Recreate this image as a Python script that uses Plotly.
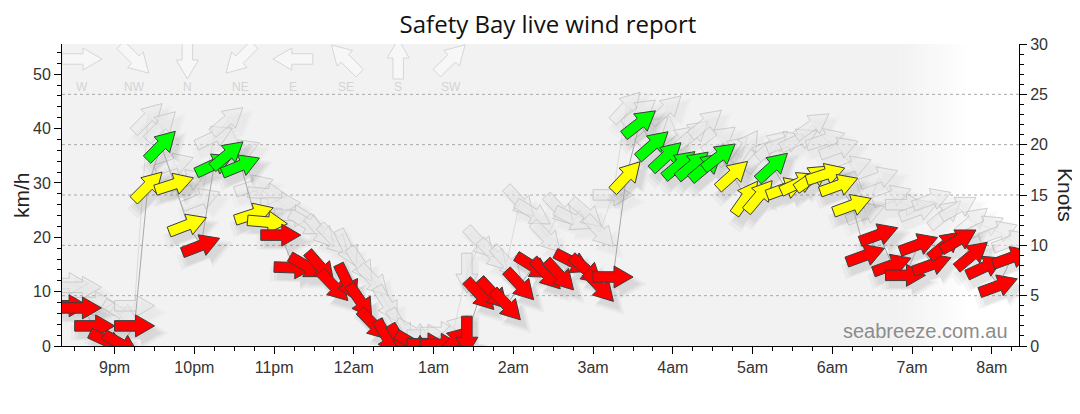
# # Safety Bay live wind report
# Wind speed arrows (coloured by strength) with gust arrows behind them.

import numpy as np
import plotly.graph_objects as go

# ## Data (10 minute observations, 20:25 -> 08:15)

obs_time = [
    "20:25", "20:35", "20:45", "20:55", "21:05", "21:15", "21:25", "21:35", "21:45", "21:55",
    "22:05", "22:15", "22:25", "22:35", "22:45", "22:55", "23:05", "23:15", "23:25", "23:35",
    "23:45", "23:55", "00:05", "00:15", "00:25", "00:35", "00:45", "00:55", "01:05", "01:15",
    "01:25", "01:35", "01:45", "01:55", "02:05", "02:15", "02:25", "02:35", "02:45", "02:55",
    "03:05", "03:15", "03:25", "03:35", "03:45", "03:55", "04:05", "04:15", "04:25", "04:35",
    "04:45", "04:55", "05:05", "05:15", "05:25", "05:35", "05:45", "05:55", "06:05", "06:15",
    "06:25", "06:35", "06:45", "06:55", "07:05", "07:15", "07:25", "07:35", "07:45", "07:55",
    "08:05", "08:15",
]
speed_kmh = [
    7.4, 7.0, 3.7, 0.8, 0.3, 3.7, 29.4, 36.9, 29.8, 22.3,
    18.5, 33.4, 35.2, 33.2, 24.3, 22.8, 20.4, 14.4, 14.6, 14.5,
    11.0, 11.7, 8.2, 3.9, 1.5, 0.7, 0.3, 0.4, 0.3, 0.8,
    1.8, 9.4, 9.6, 7.5, 11.2, 14.6, 13.2, 13.0, 15.4, 14.0,
    10.9, 12.7, 31.2, 41.0, 37.0, 34.9, 33.4, 33.3, 33.0, 34.9,
    31.5, 27.3, 27.6, 33.0, 29.0, 30.0, 31.0, 31.6, 29.6, 25.9,
    16.7, 20.5, 14.9, 13.0, 18.7, 15.0, 18.6, 19.5, 16.7, 14.6,
    11.1, 16.3,
]
gust_kmh = [
    11.5, 10.8, 8.0, 5.5, 6.0, 7.4, 42.0, 40.5, 33.5, 30.5,
    27.0, 38.5, 41.5, 36.0, 29.5, 28.0, 26.3, 24.0, 22.5, 21.0,
    19.5, 18.0, 15.0, 12.0, 7.7, 3.5, 2.5, 2.0, 2.5, 3.0,
    13.4, 19.0, 16.7, 15.4, 26.5, 24.4, 20.0, 25.0, 23.3, 24.4,
    21.0, 27.8, 44.0, 43.0, 39.7, 43.5, 38.0, 39.0, 41.0, 38.0,
    36.0, 36.6, 35.0, 37.0, 37.5, 38.0, 40.6, 38.0, 36.4, 33.0,
    24.4, 31.0, 27.6, 26.0, 25.0, 27.0, 24.3, 25.5, 23.0, 22.0,
    21.0, 19.3,
]
# direction the wind comes FROM, degrees
dir_from = [
    270, 270, 270, 295, 300, 270, 225, 225, 252, 249,
    249, 245, 230, 248, 252, 275, 270, 272, 300, 319,
    316, 334, 326, 316, 330, 330, 300, 270, 270, 225,
    0, 317, 317, 317, 317, 302, 317, 317, 297, 311,
    317, 270, 223, 232, 229, 227, 230, 230, 230, 232,
    228, 215, 220, 228, 250, 245, 235, 252, 250, 250,
    250, 250, 250, 270, 250, 250, 230, 240, 230, 245,
    250, 250,
]

hour_ticks = [1, 2, 3, 4, 5, 6, 7, 8, 9, 10, 11, 12]
hour_labels = ["9pm", "10pm", "11pm", "12am", "1am", "2am", "3am",
               "4am", "5am", "6am", "7am", "8am"]
knot_grid = [5, 10, 15, 20, 25]

compass_labels = ["W", "NW", "N", "NE", "E", "SE", "S", "SW"]
compass_from = [270, 315, 0, 45, 90, 135, 180, 225]

speed_bands = [21, 32]            # km/h: red below, yellow between, green above
band_colors = ["#ff0000", "#ffff00", "#00ff00"]

# ## Geometry
# the page puts the figure 8px in from the top-left corner, so the margins
# are trimmed by that much to land the plot where the reference has it

KMH_PER_KNOT = 1.852
X_RANGE = [0.34, 12.34]           # hours after 20:00
Y_RANGE = [0, 30 * KMH_PER_KNOT]
W, H = 1080, 414
PAGE_PAD = 8
MARGIN = dict(l=62 - PAGE_PAD, r=1080 - 1019 + PAGE_PAD, t=44 - PAGE_PAD, b=414 - 346 + PAGE_PAD)
PX_PER_H = (W - MARGIN["l"] - MARGIN["r"]) / (X_RANGE[1] - X_RANGE[0])
PX_PER_KMH = (H - MARGIN["t"] - MARGIN["b"]) / (Y_RANGE[1] - Y_RANGE[0])

# block arrow in pixels, pointing along +x, centred on the point
ARROW = [(-20, 5.25), (1, 5.25), (1, 11), (20, 0), (1, -11), (1, -5.25), (-20, -5.25), (-20, 5.25)]

FONT = "Liberation Sans, Arial, sans-serif"


def hours_after_8pm(hhmm):
    hh, mm = (int(p) for p in hhmm.split(":"))
    h = hh + mm / 60 - 20
    return h + 24 if h < 0 else h


def arrow_xy(xc, yc, frm, scale=1.0, off=(0, 0)):
    b = np.radians((frm + 180) % 360)
    ux, uy = np.sin(b), np.cos(b)
    vx, vy = -uy, ux
    xs, ys = [], []
    for a, c in ARROW:
        a, c = a * scale, c * scale
        xs.append(xc + (a * ux + c * vx + off[0]) / PX_PER_H)
        ys.append(yc + (a * uy + c * vy + off[1]) / PX_PER_KMH)
    return xs, ys


def band_color(v):
    for lim, col in zip(speed_bands, band_colors):
        if v < lim:
            return col
    return band_colors[-1]


def shadow_trace(vals, scale, alpha):
    sx, sy = [], []
    for t, val, d in zip(t_h, vals, dir_from):
        xs, ys = arrow_xy(t, val, d, scale=scale, off=(5, -7))
        sx += xs + [None]
        sy += ys + [None]
    return go.Scatter(x=sx, y=sy, mode="lines", fill="toself",
        fillcolor=f"rgba(0,0,0,{alpha})", line=dict(width=0),
        hoverinfo="skip", showlegend=False)


t_h = [hours_after_8pm(t) for t in obs_time]

fig = go.Figure()

# ## Gust arrows with a faint shadow

for scale, alpha in [(1.4, 0.015), (1.15, 0.02)]:
    fig.add_trace(shadow_trace(gust_kmh, scale, alpha))

fig.add_trace(go.Scatter(x=t_h, y=gust_kmh, mode="lines",
    line=dict(color="rgba(205,205,205,0.6)", width=1),
    hoverinfo="skip", showlegend=False))

for t, g, d in zip(t_h, gust_kmh, dir_from):
    xs, ys = arrow_xy(t, g, d)
    fig.add_trace(go.Scatter(x=xs, y=ys, mode="lines", fill="toself",
        fillcolor="rgba(232,232,232,0.5)",
        line=dict(color="rgba(190,190,190,0.7)", width=1),
        hoverinfo="skip", showlegend=False))

# ## Speed line + coloured speed arrows with soft shadows

for scale, alpha in [(1.45, 0.03), (1.25, 0.035), (1.08, 0.04)]:
    fig.add_trace(shadow_trace(speed_kmh, scale, alpha))

fig.add_trace(go.Scatter(x=t_h, y=speed_kmh, mode="lines",
    line=dict(color="#a8a8a8", width=1),
    hoverinfo="skip", showlegend=False))

for t, v, d in zip(t_h, speed_kmh, dir_from):
    xs, ys = arrow_xy(t, v, d)
    fig.add_trace(go.Scatter(x=xs, y=ys, mode="lines", fill="toself",
        fillcolor=band_color(v), line=dict(color="#3c3c3c", width=1),
        hoverinfo="skip", showlegend=False))

# ## Compass key along the top

compass_x0, compass_step = 0.59, 0.661
compass_y, compass_label_y = 52.8, 47.6
cx, cy = [], []
for i, frm in enumerate(compass_from):
    xs, ys = arrow_xy(compass_x0 + i * compass_step, compass_y, frm)
    cx += xs + [None]
    cy += ys + [None]
fig.add_trace(go.Scatter(x=cx, y=cy, mode="lines", fill="toself",
    fillcolor="rgba(250,250,250,0.6)", line=dict(color="#d6d6d6", width=1),
    hoverinfo="skip", showlegend=False))
for i, lab in enumerate(compass_labels):
    fig.add_annotation(x=compass_x0 + i * compass_step, y=compass_label_y, text=lab,
        showarrow=False, font=dict(family=FONT, size=12, color="#d4d4d4"))

# knots axis carrier
fig.add_trace(go.Scatter(x=[X_RANGE[0]], y=[0], yaxis="y2", mode="markers",
    marker=dict(opacity=0), hoverinfo="skip", showlegend=False))

# ## Background panel fading out on the right

fade_start, fade_end, n_strips = 0.875, 0.945, 14
fig.add_shape(type="rect", xref="paper", yref="paper", x0=0, x1=fade_start, y0=0, y1=1,
    fillcolor="#f2f2f2", line=dict(width=0), layer="below")
for k in range(n_strips):
    f = (k + 0.5) / n_strips
    c = int(242 + (255 - 242) * f)
    w = (fade_end - fade_start) / n_strips
    fig.add_shape(type="rect", xref="paper", yref="paper",
        x0=fade_start + k * w, x1=fade_start + (k + 1) * w + 0.001, y0=0, y1=1,
        fillcolor=f"rgb({c},{c},{c})", line=dict(width=0), layer="below")

for k in knot_grid:
    fig.add_shape(type="line", xref="paper", yref="y2", x0=0, x1=1, y0=k, y1=k,
        line=dict(color="#a9a9a9", width=1, dash="dot"), layer="below")

# ## Labels

fig.add_annotation(xref="paper", yref="paper", x=0, y=0.5, xshift=-41,
    xanchor="center", yanchor="middle",
    text="km/h", textangle=-90, showarrow=False,
    font=dict(family=FONT, size=21, color="#222"))
fig.add_annotation(xref="paper", yref="paper", x=1, y=0.5, xshift=47,
    xanchor="center", yanchor="middle",
    text="Knots", textangle=90, showarrow=False,
    font=dict(family=FONT, size=21, color="#222"))
fig.add_annotation(xref="paper", yref="paper", x=0.9906, y=0.05,
    xanchor="right", yanchor="middle", text="seabreeze.com.au", showarrow=False,
    font=dict(family=FONT, size=20, color="#8c8c8c"))

tick_font = dict(family=FONT, size=16, color="#333")
fig.update_layout(
    width=W, height=H, margin=MARGIN,
    paper_bgcolor="white", plot_bgcolor="white", showlegend=False,
    title=dict(text="Safety Bay live wind report", x=0.5, xanchor="center",
               y=1 - 17 / H, yanchor="middle",
               font=dict(family="Open Sans, sans-serif", size=24, color="#111")),
    xaxis=dict(range=X_RANGE, tickmode="array", tickvals=hour_ticks, ticktext=hour_labels,
               ticks="outside", ticklen=7, tickcolor="black", showline=True,
               linecolor="black", linewidth=1, showgrid=False, zeroline=False,
               tickfont=tick_font,
               minor=dict(tick0=0, dtick=0.25, ticks="outside", ticklen=4, tickcolor="black")),
    yaxis=dict(range=Y_RANGE, tick0=0, dtick=10, ticks="outside", ticklen=7,
               tickcolor="black", showline=True, linecolor="black", linewidth=1,
               showgrid=False, zeroline=False, tickfont=tick_font,
               minor=dict(tick0=0, dtick=2, ticks="outside", ticklen=4, tickcolor="black")),
    yaxis2=dict(range=[0, 30], overlaying="y", side="right", tick0=0, dtick=5,
                ticks="outside", ticklen=7, tickcolor="black", showline=True,
                linecolor="black", linewidth=1, showgrid=False, zeroline=False,
                tickfont=tick_font,
                minor=dict(tick0=0, dtick=1, ticks="outside", ticklen=4, tickcolor="black")),
)

fig.write_html("out.html")
